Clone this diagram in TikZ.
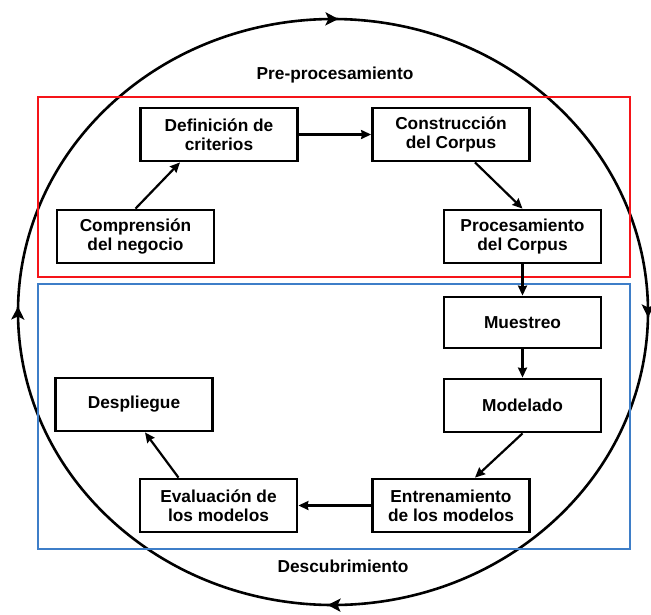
\documentclass[tikz,border=0pt]{standalone}
\usepackage{fontspec}
\setmainfont{Liberation Sans}
\usetikzlibrary{arrows.meta,calc,positioning,decorations.markings}
\definecolor{preRed}{RGB}{245,20,25}
\definecolor{descBlue}{RGB}{62,126,200}

\begin{document}
\begin{tikzpicture}[x=1pt,y=-1pt,>={Stealth[length=10pt,width=9pt,inset=1pt]},line width=2.2pt,
    main node/.style={draw,line width=2.8pt,minimum width=157pt,minimum height=53pt,inner sep=2pt,align=center,font=\fontsize{17.3}{19}\selectfont\bfseries},
    phase label/.style={font=\fontsize{17.3}{19}\selectfont\bfseries}]
                \useasboundingbox (0,0) rectangle (651,614);

                % cycle around everything
                \draw[line width=2.6pt,decoration={markings,
                        mark=at position 0.125 with {\arrow{Stealth[length=13pt,width=13pt,inset=3pt]}},
                        mark=at position 0.375 with {\arrow{Stealth[length=13pt,width=13pt,inset=3pt]}},
                        mark=at position 0.625 with {\arrow{Stealth[length=13pt,width=13pt,inset=3pt]}},
                        mark=at position 0.875 with {\arrow{Stealth[length=13pt,width=13pt,inset=3pt]}}},
                      postaction={decorate}]
                    ($(333,312)+(-45:315 and 293)$) arc[start angle=-45,end angle=315,x radius=315,y radius=293];

                \draw[preRed] (38,97) rectangle (630,277);
                \draw[descBlue] (38,284) rectangle (630,549);
                \node[phase label] (pre) at (335,75) {Pre-procesamiento};
                \node[phase label] (desc) at (343,566) {Descubrimiento};

                \node[main node] (1) at (135.5,236.5) {Comprensión\\del negocio};
                \node[main node] (2) at (219,134.5) {Definición de\\criterios};
                \node[main node] (3) at (451,134.5) {Construcción\\del Corpus};
                \node[main node] (4) at (522.5,236.5) {Procesamiento\\del Corpus};
                \node[main node,minimum height=51pt] (5) at (522.5,322.5) {Muestreo};
                \node[main node] (6) at (522.5,405.5) {Modelado};
                \node[main node] (7) at (451,505.5) {Entrenamiento\\de los modelos};
                \node[main node] (8) at (218.5,505.5) {Evaluación de\\los modelos};
                \node[main node] (9) at (134,404.5) {Despliegue};

                \path[->]
                    (1.north) edge ([xshift=-39pt]2.south)
                    (2) edge (3)
                    ([xshift=24pt]3.south) edge (4.north)
                    (4) edge (5)
                    (5) edge (6)
                    (6.south) edge ([xshift=24pt]7.north)
                    (7) edge (8)
                    ([xshift=-40pt]8.north) edge ([xshift=11pt]9.south)
                    ;
            \end{tikzpicture}
\end{document}
